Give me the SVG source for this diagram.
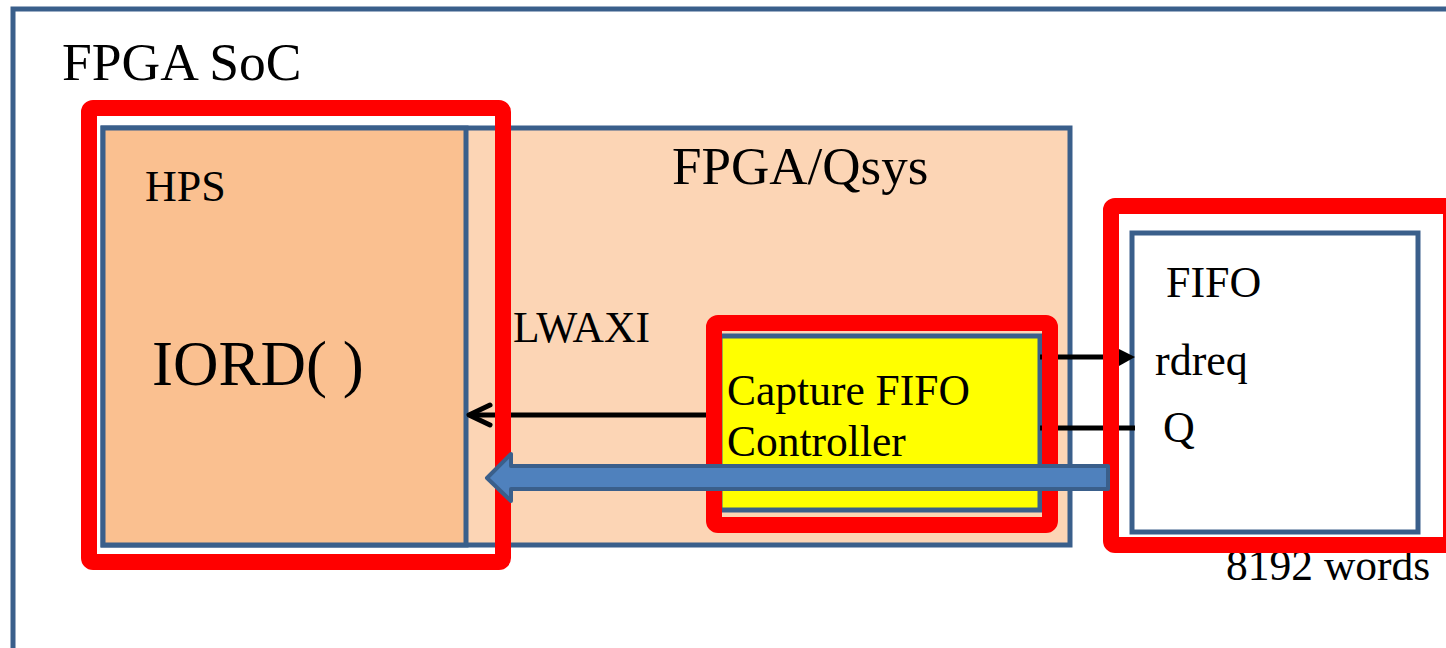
<svg xmlns="http://www.w3.org/2000/svg" width="1446" height="648" viewBox="0 0 1446 648">
  <defs>
    <style>
      .box { stroke: #3A5F8B; stroke-width: 5; }
      .hl { fill: none; stroke: #FF0000; stroke-width: 16; }
      .wire { stroke: #000; stroke-width: 5; fill: none; }
      text { font-family: "Liberation Serif", "Times New Roman", serif; fill: #000; }
    </style>
  </defs>
  <rect width="1446" height="648" fill="#FFFFFF"/>

  <g id="fpga-soc">
    <rect class="box" x="13" y="9" width="1460" height="660" fill="#FFFFFF"/>
    <text x="62" y="80" font-size="53.5">FPGA SoC</text>
  </g>

  <g id="fpga-qsys">
    <rect class="box" x="103" y="128" width="967" height="417" fill="#FCD5B5"/>
    <text x="672" y="184" font-size="53">FPGA/Qsys</text>
    <text x="513" y="342" font-size="43.5">LWAXI</text>
  </g>

  <g id="hps">
    <rect class="box" x="103" y="128" width="363" height="417" fill="#FAC090"/>
    <text x="145" y="201" font-size="44">HPS</text>
    <text x="152" y="385" font-size="63">IORD( )</text>
  </g>

  <g id="capture-fifo-controller">
    <rect class="box" x="720" y="336" width="320" height="174" fill="#FFFF00"/>
    <text x="727" y="405" font-size="43.5">Capture FIFO</text>
    <text x="727" y="456" font-size="43.5">Controller</text>
  </g>

  <g id="fifo">
    <rect class="box" x="1132" y="233" width="286" height="299" fill="#FFFFFF"/>
    <text x="1166" y="297" font-size="44">FIFO</text>
    <text x="1155" y="375" font-size="44">rdreq</text>
    <text x="1163" y="442" font-size="44">Q</text>
    <text x="1226" y="580" font-size="43.5">8192 words</text>
  </g>

  <g id="connectors">
    <polyline class="wire" points="706,415 470,415"/>
    <polyline class="wire" stroke-linecap="round" stroke-linejoin="round" points="490,405 469,415 490,425"/>
    <line class="wire" x1="1040" y1="357" x2="1121" y2="357"/>
    <path d="M1119,349 L1135,357 L1119,366 Z" fill="#000"/>
    <line class="wire" x1="1040" y1="428" x2="1135" y2="428"/>
  </g>

  <g id="highlights">
    <rect class="hl" x="89" y="108" width="414" height="454" rx="4"/>
    <rect class="hl" x="714" y="323" width="336" height="202" rx="4"/>
    <rect class="hl" x="1111" y="206" width="340" height="339" rx="4"/>
  </g>

  <g id="data-transfer">
    <polygon points="487,478 511,454 511,466 1108,466 1108,489 511,489 511,501" fill="#4F81BD" stroke="#3A5F8B" stroke-width="4" stroke-linejoin="round"/>
  </g>
</svg>
